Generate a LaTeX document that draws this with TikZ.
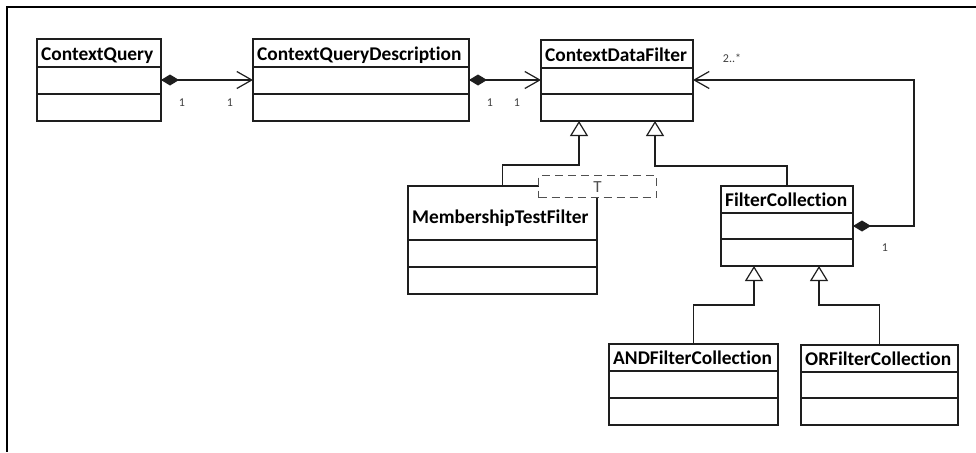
\documentclass[tikz,border=0pt]{standalone}
\usepackage{fontspec}
\usetikzlibrary{arrows.meta}
\newfontfamily\carlito[Ligatures=NoCommon]{Carlito}
\definecolor{linec}{HTML}{1E1E1E}
\definecolor{multc}{HTML}{404040}
\definecolor{dashc}{HTML}{505050}
\newcommand\titlefont{\carlito\bfseries\fontsize{19.4}{19.4}\selectfont}
\newcommand\multfont{\carlito\fontsize{12}{12}\selectfont}
\newcommand\tplfont{\carlito\fontsize{17}{17}\selectfont}
\tikzset{
  cls/.style={draw=linec, line width=1.4pt, fill=white, inner sep=0pt, outer sep=0pt, anchor=north west},
  divider/.style={draw=linec, line width=1.4pt},
  title/.style={font=\titlefont, anchor=base west, inner sep=0pt, text=black},
  mult/.style={font=\multfont, text=multc, inner sep=0pt},
  comp/.style={draw=linec, line width=1.3pt, {Diamond[length=18pt,width=11pt]}-{Straight Barb[length=15pt,width=17pt,line width=1.2pt]}},
  gen/.style={draw=linec, line width=1.3pt, -{Triangle[open,length=15pt,width=18pt,fill=white,line width=1.2pt]}},
}
% name, x1, y1, x2, y2, divider1, divider2, title, title baseline
\newcommand\umlclass[9]{%
  \node[cls, minimum width={(#4-#2)*1pt}, minimum height={(#5-#3)*1pt}] (#1) at (#2,#3) {};
  \draw[divider] (#2,#6) -- (#4,#6) (#2,#7) -- (#4,#7);
  \node[title] (#1-t) at (#2+4,#9) {#8};
}
\begin{document}
\begin{tikzpicture}[x=1pt,y=-1pt]
\useasboundingbox (0,0) rectangle (976,452);
\fill[white] (0,0) rectangle (976,452);
% frame
\draw[line width=2.5pt, black] (976,7) -- (7,7) -- (7,452);

% classes
\umlclass{cq}{37}{39}{161}{121}{67}{94}{ContextQuery}{60}
\umlclass{cqd}{253}{39}{469}{121}{67}{94}{ContextQueryDescription}{60}
\umlclass{cdf}{541}{40}{693}{121}{68}{94}{ContextDataFilter}{61}
\umlclass{mtf}{408}{186}{597}{294}{240}{267}{MembershipTestFilter}{223}
\umlclass{fc}{721}{186}{853}{266}{213}{239}{FilterCollection}{206}
\umlclass{andfc}{609}{344}{778}{425}{371}{398}{ANDFilterCollection}{364}
\umlclass{orfc}{801}{345}{958}{425}{372}{398}{ORFilterCollection}{365}

% template parameter box
\node[draw=dashc, dash pattern=on 8pt off 5pt, line width=1.2pt, fill=white,
      minimum width=118pt, minimum height=22pt, inner sep=0pt, anchor=north west,
      text=dashc, font=\tplfont] (tpl) at (538,175) {T};

% compositions
\draw[comp] (cq.east) -- (cqd.west);
\draw[comp] (cqd.east) -- (cdf.west |- cqd.east);
\coordinate (loop) at (914,80);
\draw[comp] (fc.east) -| (loop) -- (cdf.east |- loop);

% generalizations
\draw[gen] (mtf.north) |- (579,165) -- (cdf.south -| 579,0);
\draw[gen] (fc.north) |- (655,166) -- (cdf.south -| 655,0);
\draw[gen] (andfc.north) |- (754,305) -- (fc.south -| 754,0);
\draw[gen] (orfc.north) |- (819,305) -- (fc.south -| 819,0);

% multiplicities
\node[mult] (m1) at (182,103) {1};
\node[mult] (m2) at (230,103) {1};
\node[mult] (m3) at (490,103) {1};
\node[mult] (m4) at (517,103) {1};
\node[mult] (m5) at (732,58) {2..*};
\node[mult] (m6) at (885,248) {1};
\end{tikzpicture}
\end{document}
